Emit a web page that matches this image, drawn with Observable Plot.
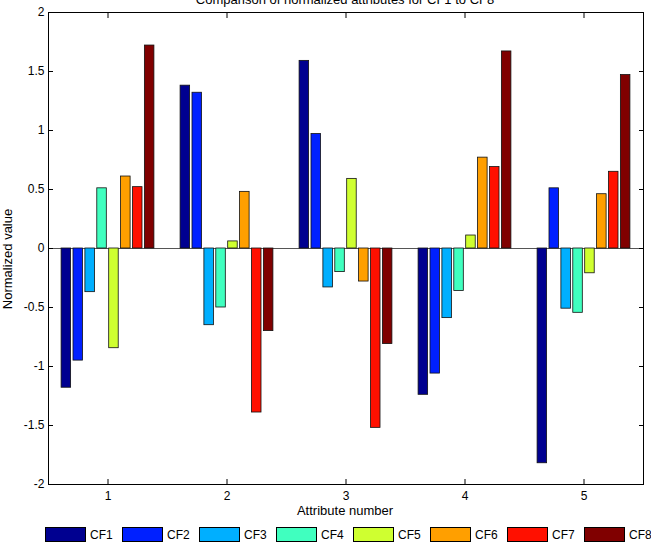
<!DOCTYPE html>
<html><head><meta charset="utf-8">
<script src="https://cdn.jsdelivr.net/npm/d3@7"></script>
<script src="https://cdn.jsdelivr.net/npm/@observablehq/plot@0.6"></script>
<style>
body{margin:0;background:#fff;font-family:"Liberation Sans",Arial,Helvetica,sans-serif;}
#wrap{position:relative;width:651px;height:553px;overflow:hidden;background:#fff;}
.lbl{position:absolute;color:#000;white-space:nowrap;font-size:12px;line-height:14px;}
.sw{position:absolute;width:41px;height:15px;box-sizing:border-box;border:1px solid #000;}
</style></head><body><div id="wrap"></div>
<script>
const attributes = [1, 2, 3, 4, 5];
const seriesNames = ["CF1", "CF2", "CF3", "CF4", "CF5", "CF6", "CF7", "CF8"];
const seriesColors = ["#000090", "#0020FF", "#00AFFF", "#40FFBF", "#CFFF30", "#FF9F00", "#FF1000", "#800000"];
const CF1 = [-1.18, 1.38, 1.59, -1.24, -1.82];
const CF2 = [-0.95, 1.32, 0.97, -1.06, 0.51];
const CF3 = [-0.37, -0.65, -0.33, -0.59, -0.51];
const CF4 = [0.51, -0.50, -0.20, -0.36, -0.545];
const CF5 = [-0.845, 0.06, 0.59, 0.11, -0.21];
const CF6 = [0.61, 0.48, -0.28, 0.77, 0.46];
const CF7 = [0.52, -1.39, -1.52, 0.69, 0.65];
const CF8 = [1.72, -0.70, -0.81, 1.67, 1.47];
const yTicks = [-2, -1.5, -1, -0.5, 0, 0.5, 1, 1.5, 2];
const titleText = "Comparison of normalized attributes for CF1 to CF8";
const xLabelText = "Attribute number";
const yLabelText = "Normalized value";

const valuesBySeries = [CF1, CF2, CF3, CF4, CF5, CF6, CF7, CF8];
const data = seriesNames.flatMap((s, i) =>
  attributes.map((a, j) => ({attr: a, series: s, idx: i, value: valuesBySeries[i][j]})));

// MATLAB grouped bar layout: group width 0.8, each bar 0.8 of its slot
const nSeries = seriesNames.length;
const slot = 0.8 / nSeries;
const barW = slot * 0.8;
const center = d => d.attr + (d.idx - (nSeries - 1) / 2) * slot;

const font = '"Liberation Sans", Arial, Helvetica, sans-serif';
const plot = Plot.plot({
  width: 651,
  height: 553,
  marginLeft: 48,
  marginRight: 8,
  marginTop: 12,
  marginBottom: 69,
  x: {domain: [0.5, 5.5]},
  y: {domain: [-2, 2]},
  color: {domain: seriesNames, range: seriesColors},
  style: {fontFamily: font, fontSize: "12px", color: "#000", background: "#fff", overflow: "visible"},
  marks: [
    Plot.ruleY([0], {stroke: "#555", strokeWidth: 1}),
    Plot.rectY(data, {
      x1: d => center(d) - barW / 2,
      x2: d => center(d) + barW / 2,
      y1: 0,
      y2: "value",
      fill: "series",
      stroke: "#111",
      strokeWidth: 0.8
    }),
    Plot.frame({stroke: "#000", strokeWidth: 1}),
    Plot.axisX(attributes, {anchor: "bottom", tickSize: 0, tickPadding: 7, tickFormat: d => String(d), label: null}),
    Plot.axisX(attributes, {anchor: "bottom", tickSize: 5, dy: -5, tickFormat: () => "", label: null}),
    Plot.axisX(attributes, {anchor: "top", tickSize: 5, dy: 5, tickFormat: () => "", label: null}),
    Plot.axisY(yTicks, {anchor: "left", tickSize: 0, tickPadding: 4, tickFormat: d => String(d), label: null}),
    Plot.axisY(yTicks, {anchor: "left", tickSize: 5, dx: 5, tickFormat: () => "", label: null}),
    Plot.axisY(yTicks, {anchor: "right", tickSize: 5, dx: -5, tickFormat: () => "", label: null})
  ]
});

const wrap = document.getElementById("wrap");
plot.style.position = "absolute";
plot.style.left = "0px";
plot.style.top = "0px";
wrap.appendChild(plot);

function addLabel(text, css) {
  const el = document.createElement("div");
  el.className = "lbl";
  el.textContent = text;
  Object.assign(el.style, css);
  wrap.appendChild(el);
  return el;
}
addLabel(titleText, {left: "345px", top: "-7px", transform: "translateX(-50%)", fontSize: "13px"});
addLabel(xLabelText, {left: "345px", top: "504px", transform: "translateX(-50%)", fontSize: "13px"});
addLabel(yLabelText, {left: "8px", top: "259px", transform: "translate(-50%,-50%) rotate(-90deg)", fontSize: "13px"});

const colorScale = plot.scale("color");
seriesNames.forEach((s, i) => {
  const sw = document.createElement("div");
  sw.className = "sw";
  sw.style.left = (45 + 77 * i) + "px";
  sw.style.top = "527px";
  sw.style.background = colorScale.apply(s);
  wrap.appendChild(sw);
  addLabel(s, {left: (45 + 77 * i + 45) + "px", top: "528px"});
});
</script></body></html>
